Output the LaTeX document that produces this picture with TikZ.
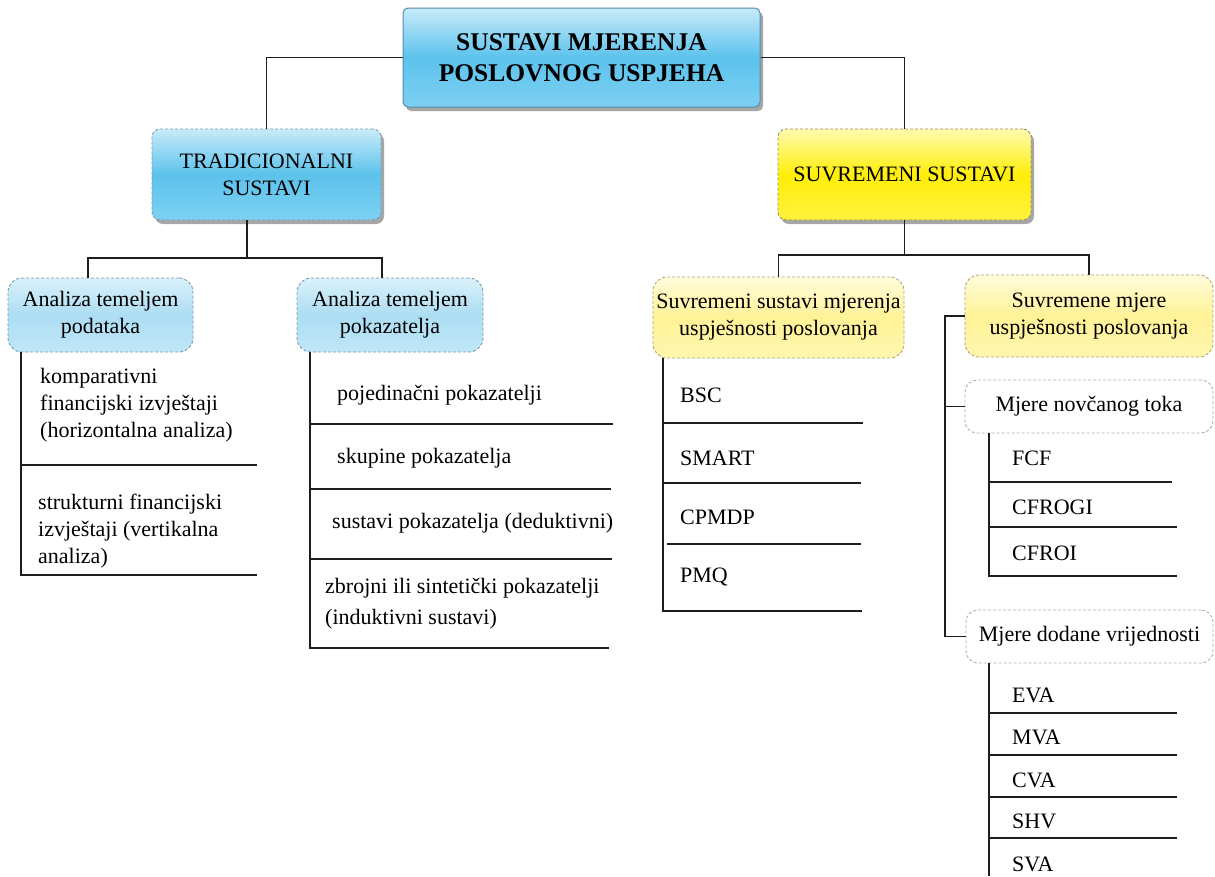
\documentclass[tikz,border=0pt]{standalone}
\usepackage{fontspec}
\setmainfont{Liberation Serif}
\usetikzlibrary{shadows}
\definecolor{bTop}{RGB}{200,235,250}
\definecolor{bMid}{RGB}{92,194,236}
\definecolor{bBot}{RGB}{125,208,242}
\definecolor{bEdge}{RGB}{85,140,170}
\definecolor{lbTop}{RGB}{218,241,251}
\definecolor{lbMid}{RGB}{172,221,243}
\definecolor{lbBot}{RGB}{192,231,248}
\definecolor{lbEdge}{RGB}{120,155,170}
\definecolor{yTop}{RGB}{255,251,175}
\definecolor{yMid}{RGB}{255,238,10}
\definecolor{yBot}{RGB}{255,241,60}
\definecolor{yEdge}{RGB}{150,140,90}
\definecolor{lyTop}{RGB}{255,252,220}
\definecolor{lyMid}{RGB}{255,242,150}
\definecolor{lyBot}{RGB}{255,246,175}
\definecolor{lyEdge}{RGB}{175,165,115}
\definecolor{gEdge}{RGB}{175,175,175}
\definecolor{lineC}{RGB}{30,30,30}
\begin{document}
\begin{tikzpicture}[x=1pt,y=-1pt,
  txt/.style={font=\fontsize{22}{27}\selectfont},
  boxbase/.style={inner sep=0pt, align=center, txt},
  shadowed/.style={drop shadow={shadow xshift=3pt,shadow yshift=-4pt,opacity=.35,fill=black}},
  titlebox/.style={boxbase, rounded corners=5pt, draw=bEdge, line width=1pt,
     top color=bTop, bottom color=bBot, middle color=bMid, shadowed,
     font=\fontsize{25.5}{31}\selectfont\bfseries},
  bluebox/.style={boxbase, rounded corners=8pt, draw=lbEdge, line width=0.9pt,
     dash pattern=on 3pt off 2pt, top color=bTop, bottom color=bBot, middle color=bMid, shadowed},
  lbluebox/.style={boxbase, rounded corners=14pt, draw=lbEdge, line width=0.9pt,
     dash pattern=on 3pt off 2pt, top color=lbTop, bottom color=lbBot, middle color=lbMid},
  yellowbox/.style={boxbase, rounded corners=8pt, draw=yEdge, line width=0.9pt,
     dash pattern=on 3pt off 2pt, top color=yTop, bottom color=yBot, middle color=yMid, shadowed},
  lyellowbox/.style={boxbase, rounded corners=14pt, draw=lyEdge, line width=0.9pt,
     dash pattern=on 3pt off 2pt, top color=lyTop, bottom color=lyBot, middle color=lyMid},
  whitebox/.style={boxbase, rounded corners=12pt, draw=gEdge, line width=0.9pt,
     dash pattern=on 3pt off 2pt, fill=white},
  item/.style={inner sep=0pt, anchor=west, align=left, txt},
  conn/.style={draw=lineC, line width=1.2pt},
]
\useasboundingbox (0,0) rectangle (1215,876);

% ---- boxes ----
\node[titlebox, minimum width=357pt, minimum height=99pt] (title) at (581.5,57.5)
  {SUSTAVI MJERENJA\\POSLOVNOG USPJEHA};
\node[bluebox, minimum width=229pt, minimum height=91pt] (trad) at (266.5,174.5)
  {TRADICIONALNI\\SUSTAVI};
\node[yellowbox, minimum width=253pt, minimum height=91pt] (suv) at (904.5,174.5)
  {SUVREMENI SUSTAVI};
\node[lbluebox, minimum width=185pt, minimum height=74pt] (ap) at (100.5,315)
  {Analiza temeljem\\podataka};
\node[lbluebox, minimum width=186pt, minimum height=74pt] (ak) at (390,315)
  {Analiza temeljem\\pokazatelja};
\node[lyellowbox, minimum width=251pt, minimum height=81pt] (ssm) at (778.5,317.5)
  {Suvremeni sustavi mjerenja\\uspješnosti poslovanja};
\node[lyellowbox, minimum width=248pt, minimum height=82pt] (smu) at (1089,316)
  {Suvremene mjere\\uspješnosti poslovanja};
\node[whitebox, minimum width=248pt, minimum height=53pt] (mnt) at (1089,406.5)
  {Mjere novčanog toka};
\node[whitebox, minimum width=247pt, minimum height=53pt] (mdv) at (1089.5,636.5)
  {Mjere dodane vrijednosti};

% ---- tree connectors ----
\draw[conn] (title.west) -| (trad.north);
\draw[conn] (title.east) -| (suv.north);

\coordinate (jt) at (247,258);
\coordinate (apc) at (88,258);
\coordinate (akc) at (382,258);
\draw[conn] (jt |- trad.south) -- (jt);
\draw[conn] (apc |- ap.north) -- (apc) -- (akc) -- (akc |- ak.north);

\coordinate (js) at (904.5,255);
\draw[conn] (suv.south) -- (js);
\draw[conn] (ssm.north) |- (js) -| (smu.north);

\coordinate (bk) at (945,0);
\draw[conn] (smu.west) -- (smu.west -| bk) -- (bk |- mdv.west) -- (mdv.west);
\draw[conn] (mnt.west) -- (mnt.west -| bk);

% ---- list: Analiza temeljem podataka ----
\coordinate (aL) at (21,575);
\draw[conn] (aL |- ap.south) -- (aL) -- (257,575);
\draw[conn] (21,465) -- (257,465);
\node[item] (a1) at (40,405) {komparativni\\financijski izvještaji\\(horizontalna analiza)};
\node[item] (a2) at (38,531) {strukturni financijski\\izvještaji (vertikalna\\analiza)};

% ---- list: Analiza temeljem pokazatelja ----
\coordinate (kL) at (310,648);
\draw[conn] (kL |- ak.south) -- (kL) -- (609,648);
\draw[conn] (310,424) -- (613,424);
\draw[conn] (310,489) -- (611,489);
\draw[conn] (310,559) -- (612,559);
\node[item] (k1) at (337,395) {pojedinačni pokazatelji};
\node[item] (k2) at (337,458) {skupine pokazatelja};
\node[item] (k3) at (332,523) {sustavi pokazatelja (deduktivni)};
\node[item, font=\fontsize{22}{31}\selectfont] (k4) at (325,604) {zbrojni ili sintetički pokazatelji\\(induktivni sustavi)};

% ---- list: Suvremeni sustavi ----
\coordinate (sL) at (663,611);
\draw[conn] (sL |- ssm.south) -- (sL) -- (862,611);
\draw[conn] (663,423) -- (863,423);
\draw[conn] (663,483) -- (861,483);
\draw[conn] (667,544) -- (861,544);
\node[item] (s1) at (680,395) {BSC};
\node[item] (s2) at (680,458) {SMART};
\node[item] (s3) at (680,517) {CPMDP};
\node[item] (s4) at (680,577) {PMQ};

% ---- list: Mjere novčanog toka ----
\coordinate (nL) at (989,576);
\draw[conn] (nL |- mnt.south) -- (nL) -- (1177,576);
\draw[conn] (989,482) -- (1172,482);
\draw[conn] (989,527) -- (1177,527);
\node[item] (n1) at (1012,458) {FCF};
\node[item] (n2) at (1012,507) {CFROGI};
\node[item] (n3) at (1012,553) {CFROI};

% ---- list: Mjere dodane vrijednosti ----
\coordinate (dL) at (989,876);
\draw[conn] (dL |- mdv.south) -- (dL);
\draw[conn] (989,713) -- (1177,713);
\draw[conn] (989,755) -- (1177,755);
\draw[conn] (989,797) -- (1177,797);
\draw[conn] (989,838) -- (1177,838);
\node[item] (d1) at (1012,695) {EVA};
\node[item] (d2) at (1012,737) {MVA};
\node[item] (d3) at (1012,780) {CVA};
\node[item] (d4) at (1012,821) {SHV};
\node[item] (d5) at (1012,864) {SVA};
\end{tikzpicture}
\end{document}
